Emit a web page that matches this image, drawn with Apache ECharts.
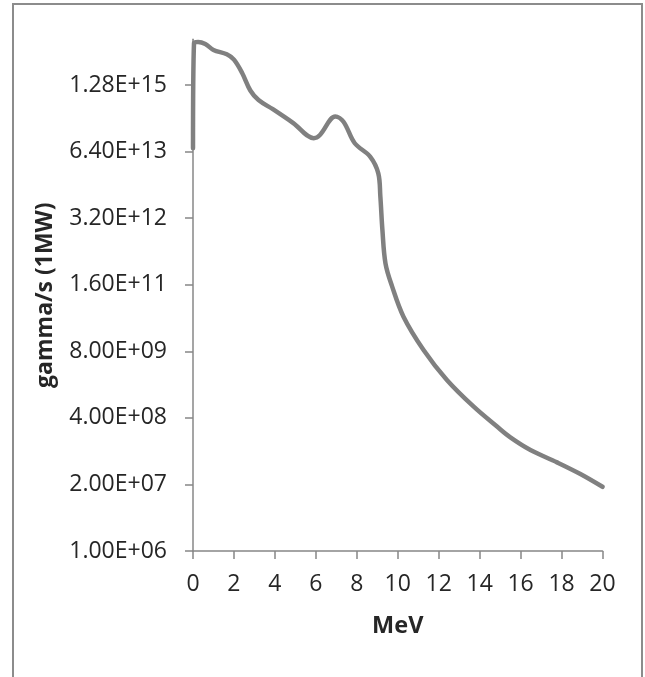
<!DOCTYPE html>
<html>
<head>
<meta charset="utf-8">
<script src="https://cdn.jsdelivr.net/npm/echarts@6/dist/echarts.min.js"></script>
<style>
  html, body { margin: 0; padding: 0; background: #ffffff; }
  #chart { width: 645px; height: 677px; }
</style>
</head>
<body>
<div id="chart"></div>
<script>
// Energy (MeV) and gamma emission rate (gamma/s at 1 MW)
const energyMeV = [0, 0.05, 0.25, 0.6, 1.0, 1.65, 2.0, 2.4, 2.8, 3.2, 3.9, 4.9, 5.9, 6.2, 6.95, 7.35, 7.9, 8.65, 9.05, 9.15, 9.25, 9.4, 9.72, 10.28, 11.26, 12.4, 13.71, 14.85, 15.5, 16.48, 17.78, 18.92, 20];
const gammaRate = [7.4e13, 8.5e15, 8.9e15, 8.1e15, 6.2e15, 5.1e15, 4.0e15, 2.2e15, 1.0e15, 6.5e14, 4.3e14, 2.3e14, 1.17e14, 1.35e14, 3.1e14, 2.45e14, 9.3e13, 5.1e13, 2.4e13, 8.5e12, 1.9e12, 4.2e11, 1.5e11, 3.8e10, 8.5e9, 2.2e9, 6.6e8, 2.7e8, 1.66e8, 9.4e7, 5.4e7, 3.2e7, 1.8e7];

// Axis settings
const xTickValues = [0, 2, 4, 6, 8, 10, 12, 14, 16, 18, 20];
const yLogBase = 20;
const yMin = 1e6;
const yMax = 1e16;
const yTickLabels = ['1.00E+06', '2.00E+07', '4.00E+08', '8.00E+09', '1.60E+11', '3.20E+12', '6.40E+13', '1.28E+15'];

const xTitle = 'MeV';
const yTitle = 'gamma/s (1MW)';

const seriesData = energyMeV.map((e, i) => [e, gammaRate[i]]);

function formatSci(v) {
  const s = Number(v).toExponential(2); // e.g. 2.00e+7
  const parts = s.split('e');
  const mant = parts[0];
  let exp = parseInt(parts[1], 10);
  const sign = exp < 0 ? '-' : '+';
  exp = Math.abs(exp);
  return mant + 'E' + sign + (exp < 10 ? '0' + exp : '' + exp);
}

const FONT = '"Open Sans", "Liberation Sans", sans-serif';
const AXIS_COLOR = '#878787';
const TEXT_COLOR = '#262626';

const chart = echarts.init(document.getElementById('chart'), null, { renderer: 'canvas' });
chart.setOption({
  backgroundColor: '#ffffff',
  animation: false,
  graphic: [{
    type: 'rect',
    shape: { x: 13, y: 4, width: 629, height: 720 },
    style: { fill: 'none', stroke: '#8c8c8c', lineWidth: 2 },
    silent: true
  }],
  grid: { left: 193, right: 42.5, top: 39.3, bottom: 126, containLabel: false },
  xAxis: {
    type: 'value',
    min: xTickValues[0],
    max: xTickValues[xTickValues.length - 1],
    interval: xTickValues[1] - xTickValues[0],
    name: xTitle,
    nameLocation: 'middle',
    nameGap: 63,
    nameTextStyle: { fontFamily: FONT, fontSize: 23.5, fontWeight: 'bold', color: TEXT_COLOR },
    axisLine: { show: true, lineStyle: { color: AXIS_COLOR, width: 1.5 } },
    axisTick: { show: true, inside: false, length: 8, lineStyle: { color: AXIS_COLOR, width: 1.5 } },
    axisLabel: { fontFamily: FONT, fontSize: 23, color: TEXT_COLOR, margin: 22 },
    splitLine: { show: false }
  },
  yAxis: {
    type: 'log',
    logBase: yLogBase,
    min: yMin,
    max: yMax,
    interval: 1.0000001,
    name: yTitle,
    nameLocation: 'middle',
    nameGap: 136,
    nameRotate: 90,
    nameTextStyle: { fontFamily: FONT, fontSize: 23, fontWeight: 'bold', color: TEXT_COLOR },
    axisLine: { show: true, lineStyle: { color: AXIS_COLOR, width: 1.5 } },
    axisTick: { show: true, inside: false, length: 8, lineStyle: { color: AXIS_COLOR, width: 1.5 } },
    axisLabel: {
      fontFamily: FONT, fontSize: 23, color: TEXT_COLOR, margin: 26,
      showMaxLabel: false,
      formatter: function (v) {
        const s = formatSci(v);
        return yTickLabels.indexOf(s) >= 0 ? s : '';
      }
    },
    splitLine: { show: false }
  },
  series: [{
    type: 'line',
    data: seriesData,
    showSymbol: false,
    symbol: 'none',
    smooth: 0.35,
    clip: false,
    lineStyle: { color: '#808080', width: 4.5, cap: 'round', join: 'round' }
  }]
});
</script>
</body>
</html>
